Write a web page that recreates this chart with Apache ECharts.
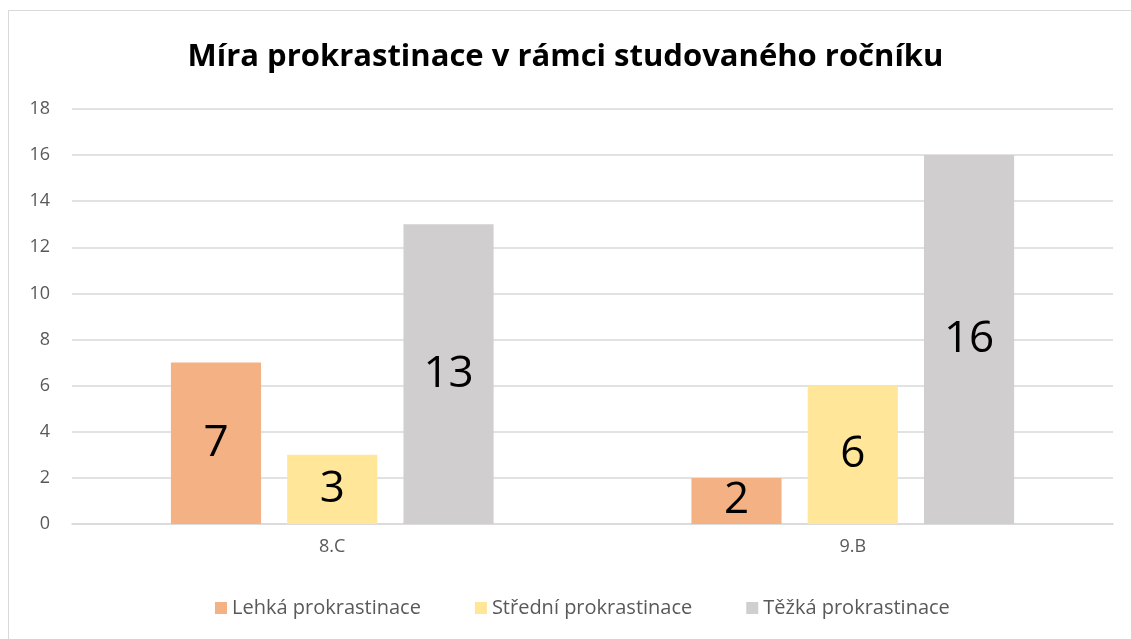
<!DOCTYPE html>
<html>
<head>
<meta charset="utf-8">
<script src="https://cdn.jsdelivr.net/npm/echarts@6/dist/echarts.min.js"></script>
<style>
  html, body { margin: 0; padding: 0; background: #fff; }
  #frame { position: absolute; left: 8px; top: 10px; width: 1140px; height: 640px; border: 1px solid #d9d9d9; box-sizing: border-box; }
  #chart { position: absolute; left: 0; top: 0; width: 1131px; height: 639px; }
</style>
</head>
<body>
<div id="frame"></div>
<div id="chart"></div>
<script>
// data
const categories = ['8.C', '9.B'];
const seriesNames = ['Lehká prokrastinace', 'Střední prokrastinace', 'Těžká prokrastinace'];
const lehka = [7, 2];
const stredni = [3, 6];
const tezka = [13, 16];
const colors = ['#F4B183', '#FFE699', '#D0CECE'];

const font = 'Open Sans, Noto Sans, sans-serif';
const chart = echarts.init(document.getElementById('chart'));

function bar(name, data, color) {
  return {
    name: name,
    type: 'bar',
    data: data,
    barGap: '29%',
    barCategoryGap: '38%',
    itemStyle: { color: color },
    label: {
      show: true,
      position: 'inside',
      color: '#000',
      fontSize: 44,
      fontFamily: font
    }
  };
}

const option = {
  animation: false,
  title: {
    text: 'Míra prokrastinace v rámci studovaného ročníku',
    left: 'center',
    top: 37,
    textStyle: { fontSize: 31, fontWeight: 'bold', color: '#000', fontFamily: font }
  },
  legend: {
    bottom: 16,
    left: 210,
    itemWidth: 12,
    itemHeight: 12,
    itemGap: 54,
    icon: 'rect',
    textStyle: { fontSize: 20, color: '#595959', fontFamily: font },
    data: seriesNames
  },
  grid: { left: 72, right: 18, top: 109, bottom: 115 },
  xAxis: {
    type: 'category',
    data: categories,
    axisLine: { lineStyle: { color: '#d9d9d9', width: 1.5 } },
    axisTick: { show: false },
    axisLabel: { fontSize: 18, color: '#595959', margin: 14, fontFamily: font }
  },
  yAxis: {
    type: 'value',
    min: 0,
    max: 18,
    interval: 2,
    axisLine: { show: false },
    axisTick: { show: false },
    splitLine: { lineStyle: { color: '#d9d9d9', width: 1.5 } },
    axisLabel: { fontSize: 18, color: '#595959', margin: 22, fontFamily: font }
  },
  series: [
    bar(seriesNames[0], lehka, colors[0]),
    bar(seriesNames[1], stredni, colors[1]),
    bar(seriesNames[2], tezka, colors[2])
  ]
};
chart.setOption(option);
</script>
</body>
</html>
